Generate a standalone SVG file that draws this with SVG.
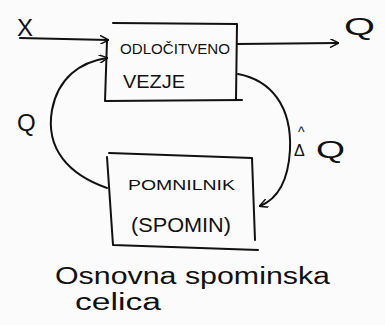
<svg xmlns="http://www.w3.org/2000/svg" width="385" height="325" viewBox="0 0 385 325">
<style>
.ln{fill:none;stroke:#111;stroke-width:2;stroke-linecap:round;stroke-linejoin:round}
.t{font-family:"Liberation Sans",Arial,sans-serif;fill:#111}
.lab{font-size:24px}
.cap{font-size:23px}
</style>
<defs>
<marker id="ah" viewBox="0 0 10 10" refX="9" refY="5" markerWidth="9" markerHeight="9" markerUnits="userSpaceOnUse" orient="auto">
<path d="M0,0 L10,5 L0,10" fill="none" stroke="#111" stroke-width="1.6"/>
</marker>
</defs>
<rect width="385" height="325" fill="#fbfbfb"/>
<g id="odlocitveno">
<path class="ln" d="M113,23 L237,24 L236,99 M105,101 L242,100 M107,40 L105,101"/>
<text class="t" x="120" y="54" font-size="15" textLength="110" lengthAdjust="spacingAndGlyphs">ODLOČITVENO</text>
<text class="t" x="123" y="88" font-size="19" textLength="62" lengthAdjust="spacingAndGlyphs">VEZJE</text>
</g>
<g id="pomnilnik">
<path class="ln" d="M109,153 L252,158 L255,240 M113,245 L258,250 M107,157 L113,245"/>
<text class="t" x="128" y="190" font-size="15" textLength="107" lengthAdjust="spacingAndGlyphs">POMNILNIK</text>
<text class="t" x="131" y="232" font-size="21" textLength="100" lengthAdjust="spacingAndGlyphs">(SPOMIN)</text>
</g>
<g id="connectors">
<path class="ln" d="M20,38 L108,40" marker-end="url(#ah)"/>
<path class="ln" d="M237,44 L338,43" marker-end="url(#ah)"/>
<path class="ln" d="M107,188 C70,175 45,150 52,110 C58,78 80,62 107,58" marker-end="url(#ah)"/>
<path class="ln" d="M238,74 C270,80 292,105 290,150 C288,185 275,200 260,206" marker-end="url(#ah)"/>
</g>
<g id="labels">
<text class="t lab" x="17" y="36">X</text>
<text class="t lab" x="344" y="35" textLength="31" lengthAdjust="spacingAndGlyphs">Q</text>
<text class="t lab" x="17" y="131">Q</text>
<text class="t" x="298" y="137" font-size="14">^</text>
<text class="t" x="294" y="156" font-size="16">Δ</text>
<text class="t lab" x="316" y="158" textLength="29" lengthAdjust="spacingAndGlyphs">Q</text>
<text class="t cap" x="55" y="284" textLength="275" lengthAdjust="spacingAndGlyphs">Osnovna spominska</text>
<text class="t cap" x="75" y="310" textLength="86" lengthAdjust="spacingAndGlyphs">celica</text>
</g>
</svg>
